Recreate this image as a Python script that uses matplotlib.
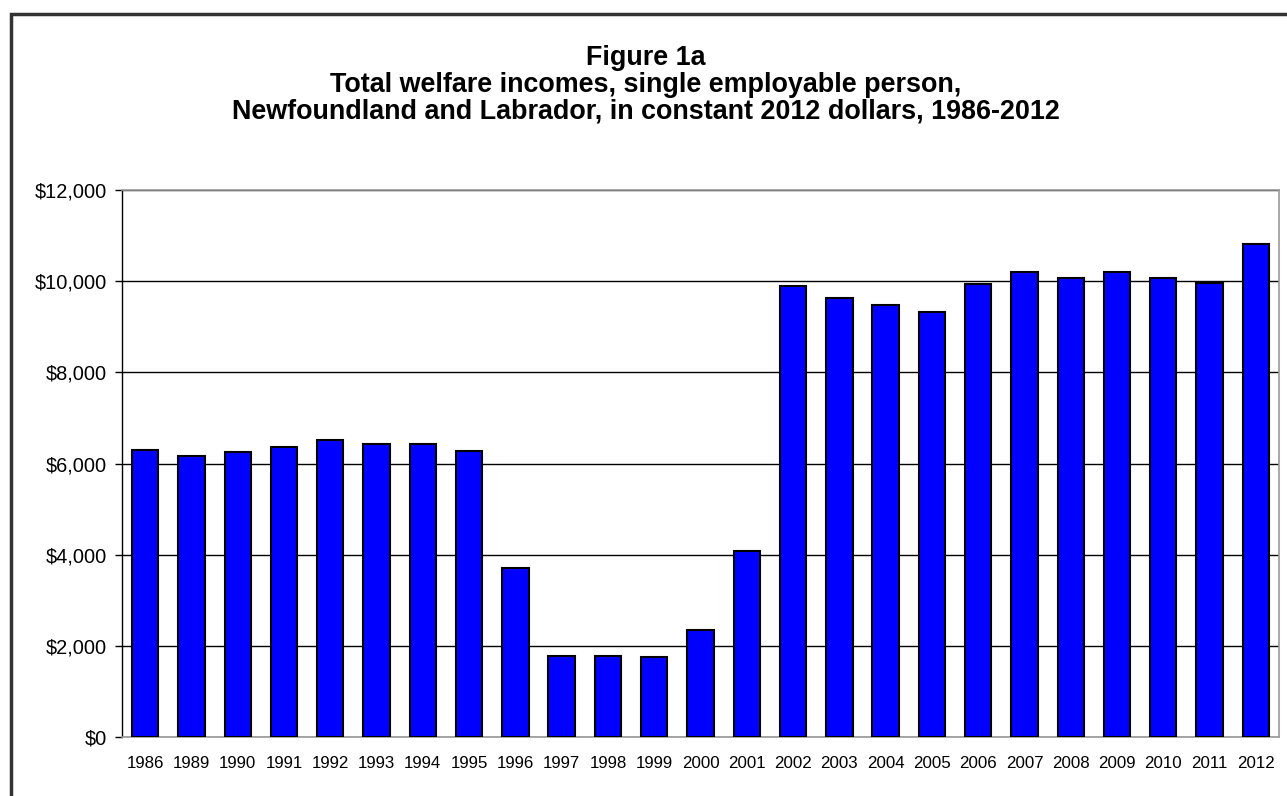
import matplotlib
matplotlib.use('Agg')
import matplotlib.pyplot as plt
from matplotlib.patches import Rectangle
from matplotlib.ticker import FuncFormatter

years = ['1986', '1989', '1990', '1991', '1992', '1993', '1994', '1995', '1996',
         '1997', '1998', '1999', '2000', '2001', '2002', '2003', '2004', '2005',
         '2006', '2007', '2008', '2009', '2010', '2011', '2012']
incomes = [6292, 6175, 6255, 6358, 6518, 6430, 6424, 6285, 3701,
           1769, 1769, 1754, 2347, 4075, 9892, 9629, 9476, 9323,
           9936, 10206, 10075, 10206, 10075, 9965, 10814]
title_lines = ['Figure 1a',
               'Total welfare incomes, single employable person,',
               'Newfoundland and Labrador, in constant 2012 dollars, 1986-2012']

W, H = 1287, 796
plt.rcParams['font.family'] = ['Liberation Sans', 'DejaVu Sans']

fig = plt.figure(figsize=(W / 100, H / 100), dpi=100)
fig.patch.set_facecolor('white')

# frame around the whole chart (runs off the right and bottom edges)
fig.add_artist(Rectangle((11 / W, -0.05), 1.2, (H - 14) / H + 0.05,
                         transform=fig.transFigure, fill=False,
                         lw=2.5, ec='#333333'))

# title, one line at a time
baselines = [65, 92, 118.5]
for line, yb in zip(title_lines, baselines):
    fig.text(0.502, 1 - yb / H, line, ha='center', va='baseline',
             fontsize=19.4, fontweight='bold', color='black')

ax = fig.add_axes([122 / W, 59 / H, 1157 / W, 547 / H])
x = list(range(len(years)))
ax.bar(x, incomes, width=0.57, color='#0000FF', edgecolor='black',
       linewidth=1.5, zorder=3)

ax.set_xlim(-0.5, len(years) - 0.5)
ax.set_ylim(0, 12000)
ax.set_yticks(range(0, 12001, 2000))
ax.yaxis.set_major_formatter(FuncFormatter(lambda v, p: f'${int(v):,}'))
ax.set_xticks(x)
ax.set_xticklabels(years)

ax.set_axisbelow(True)
ax.yaxis.grid(True, color='black', linewidth=1)
ax.xaxis.grid(False)

for side in ['top', 'right', 'bottom']:
    ax.spines[side].set_color('#9a9a9a')
    ax.spines[side].set_linewidth(1.2)
ax.spines['left'].set_color('black')
ax.spines['left'].set_linewidth(1)

ax.tick_params(axis='y', length=5, width=1, color='black',
               labelsize=14.4, pad=6)
ax.tick_params(axis='x', length=0, labelsize=12.2, pad=14)

fig.savefig('out.png', dpi=100)
